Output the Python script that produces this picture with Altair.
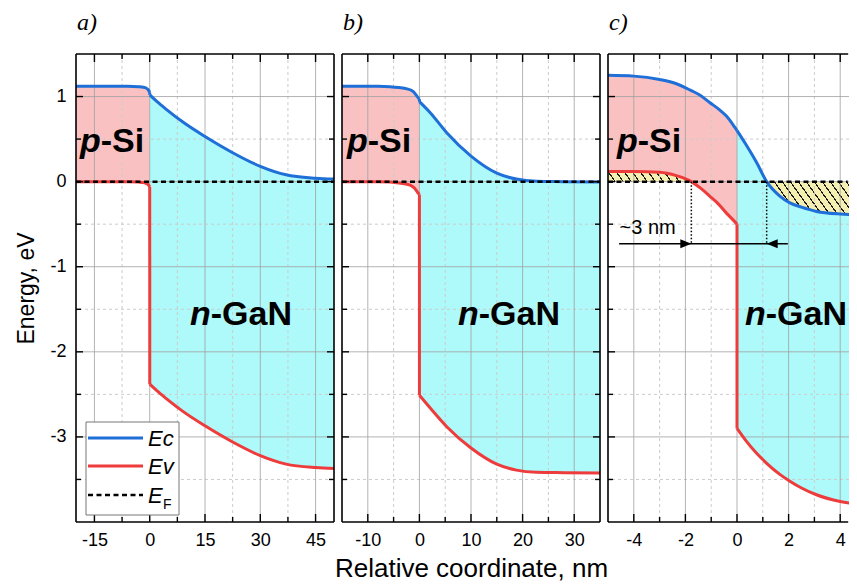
import math
import altair as alt
import pandas as pd

FONT = "Liberation Sans"
SERIF = "Liberation Serif"

# ---------------- data ----------------
y_domain = [-4.0, 1.5]
y_major = [-3, -2, -1, 0, 1]
y_minor = [-3.5, -2.5, -1.5, -0.5, 0.5]

# panel a
a_xdom = [-20, 50]
a_major = [-15, 0, 15, 30, 45]
a_minor = [-7.5, 7.5, 22.5, 37.5]
a_si_x = [-20, -10, -6, -3, -1.8, -1, -0.4, 0]
a_si_ec = [1.12, 1.12, 1.12, 1.115, 1.11, 1.10, 1.08, 1.05]
a_si_ev = [0.0, 0.0, 0.0, -0.005, -0.01, -0.02, -0.035, -0.06]
a_gan_x = [0, 2, 4.5, 9, 15, 22.5, 30, 37, 45, 50]
a_gan_ec = [1.02, 0.94, 0.85, 0.70, 0.53, 0.34, 0.18, 0.08, 0.04, 0.03]
a_gan_ev = [-2.38, -2.46, -2.55, -2.70, -2.87, -3.06, -3.22, -3.32, -3.36, -3.37]

# panel b
b_xdom = [-15, 35]
b_major = [-10, 0, 10, 20, 30]
b_minor = [-5, 5, 15, 25]
b_si_x = [-15, -8, -5.7, -4, -2.4, -1.5, -0.9, -0.3, 0]
b_si_ec = [1.12, 1.12, 1.115, 1.105, 1.09, 1.07, 1.04, 0.99, 0.97]
b_si_ev = [0.0, 0.0, -0.005, -0.015, -0.03, -0.05, -0.08, -0.13, -0.15]
b_gan_x = [0, 2.1, 5.3, 10, 15, 18.8, 22.7, 28, 35]
b_gan_ec = [0.94, 0.81, 0.575, 0.30, 0.10, 0.03, 0.005, 0.0, -0.005]
b_gan_ev = [-2.51, -2.66, -2.88, -3.13, -3.32, -3.39, -3.415, -3.42, -3.425]

# panel c
c_xdom = [-5, 4.341]
c_major = [-4, -2, 0, 2, 4]
c_minor = [-3, -1, 1, 3]
c_si_x = [-5, -4, -3, -2.35, -1.97, -1.77, -1.4, -1.06, -0.7, -0.41, -0.09, 0]
c_si_ec = [1.25, 1.24, 1.20, 1.15, 1.10, 1.07, 1.01, 0.93, 0.85, 0.77, 0.64, 0.60]
c_si_ev = [0.12, 0.12, 0.11, 0.07, 0.03, 0.0, -0.08, -0.17, -0.27, -0.37, -0.47, -0.50]
c_gan_x = [0, 0.36, 0.75, 1.15, 1.66, 2.05, 2.5, 3.08, 4, 5]
c_gan_ec = [0.60, 0.43, 0.23, 0.0, -0.17, -0.25, -0.30, -0.35, -0.38, -0.39]
c_gan_ev = [-2.90, -3.05, -3.19, -3.31, -3.44, -3.52, -3.60, -3.68, -3.76, -3.80]
c_cross_x = [-1.77, 1.15]
c_arrow_y = -0.73
c_arrow_span = [-4.57, 1.97]
c_note = "~3 nm"
c_note_pos = [-4.55, -0.54]

# ---------------- style ----------------
H = 468
W_AB = 258
W_C = 241
BLUE = "#1f6fd8"
RED = "#ee3b3b"
PINK = "#f9c1c1"
CYAN = "#aef9f9"
HATCH_BG = "#f6efb2"
GRID = "#a0a0a0"
GRID_MINOR = "#cccccc"


def hatch_fill(W, Hh, s=1.4, period=8.0, lw=1.2, bg=HATCH_BG, fg="#1a1a1a"):
    F = s * W + Hh
    k = F / (s * s * W * W + Hh * Hh)
    x2 = s * W * k
    y2 = 1 - Hh * k
    per = s * period / F
    lwt = lw * math.sqrt(1 + s * s) / F
    stops = []
    t = 0.0
    while t < 1.0:
        a = min(t + per - lwt, 1.0)
        b = min(t + per, 1.0)
        stops += [alt.GradientStop(color=bg, offset=t), alt.GradientStop(color=bg, offset=a),
                  alt.GradientStop(color=fg, offset=a), alt.GradientStop(color=fg, offset=b)]
        t += per
    return alt.LinearGradient(gradient="linear", stops=stops, x1=0, y1=1, x2=x2, y2=y2)


def one():
    return pd.DataFrame({"a": [0]})


def txt(text, x, y, size, weight="normal", style="normal", font=FONT, align="left", baseline="alphabetic",
        color="black", clip=False):
    return alt.Chart(one()).mark_text(text=text, font=font, fontSize=size, fontWeight=weight, fontStyle=style,
                                      align=align, baseline=baseline, color=color, clip=clip).encode(
        x=alt.value(x), y=alt.value(y))


def make_panel(xdom, width, si, gan, major_x, minor_x, show_y, x_title, letter, psi_x, ngan_x, extra=None,
               right_frame=True):
    si_x, si_ec, si_ev = si
    gan_x, gan_ec, gan_ev = gan
    eps = (xdom[1] - xdom[0]) * 1e-4
    rows = []
    for x, ec, ev in zip(si_x, si_ec, si_ev):
        rows.append(dict(x=x, ec=ec, ev=ev, side="Si", zero=0.0))
    for i, (x, ec, ev) in enumerate(zip(gan_x, gan_ec, gan_ev)):
        rows.append(dict(x=x + (eps if i == 0 else 0), ec=ec, ev=ev, side="GaN", zero=0.0))
    df = pd.DataFrame(rows)
    # line segments: Si side, GaN side and the junction step between them
    si_df = df[df.side == "Si"].assign(seg="Si")
    gan_df = df[df.side == "GaN"].assign(seg="GaN")
    junc = pd.concat([si_df.tail(1), gan_df.head(1)]).assign(seg="J")
    ldf = pd.concat([si_df, junc, gan_df], ignore_index=True)

    edge = width if right_frame else width - 1.3

    xs = alt.Scale(domain=xdom, nice=False, zero=False)
    ys = alt.Scale(domain=y_domain, nice=False, zero=False)
    xaxis = alt.Axis(values=major_x, labelExpr="'' + datum.value", ticks=False, tickSize=0, domain=False,
                     grid=False, labelPadding=9, labelFontSize=18, labelFont=FONT, labelColor="black",
                     labelFlush=False, titleFont=FONT, titleFontSize=26, titleFontWeight="normal",
                     titleColor="black", titlePadding=6)
    if show_y:
        yaxis = alt.Axis(values=y_major, labelExpr="'' + datum.value", ticks=False, tickSize=0, domain=False,
                         grid=False, labelPadding=10, labelFontSize=18, labelFont=FONT, labelColor="black",
                         labelFlush=False, titleFont=FONT, titleFontSize=23, titleFontWeight="normal",
                         titleColor="black", titlePadding=11)
        ytitle = "Energy, eV"
    else:
        yaxis = None
        ytitle = None

    def X(f):
        return alt.X(f, type="quantitative", scale=xs, axis=xaxis, title=x_title)

    def Y(f):
        return alt.Y(f, type="quantitative", scale=ys, axis=yaxis, title=ytitle)

    layers = []
    layers.append(alt.Chart(si_df).mark_area(color=PINK, interpolate="monotone", clip=True)
                  .encode(x=X("x"), y=Y("ev"), y2="ec:Q"))
    layers.append(alt.Chart(gan_df).mark_area(color=CYAN, interpolate="monotone", clip=True)
                  .encode(x=X("x"), y=Y("ec"), y2="ev:Q"))
    if extra is not None:
        layers += extra["under"](df, X, Y)

    # grid
    layers.append(alt.Chart(pd.DataFrame({"v": minor_x})).mark_rule(color=GRID_MINOR, strokeWidth=1, strokeDash=[3, 3])
                  .encode(x=X("v")))
    layers.append(alt.Chart(pd.DataFrame({"v": y_minor})).mark_rule(color=GRID_MINOR, strokeWidth=1, strokeDash=[3, 3],
                                                                      clip=True)
                  .encode(y=Y("v")))
    layers.append(alt.Chart(pd.DataFrame({"v": major_x})).mark_rule(color=GRID, strokeWidth=1, opacity=0.8)
                  .encode(x=X("v")))
    layers.append(alt.Chart(pd.DataFrame({"v": y_major})).mark_rule(color=GRID, strokeWidth=1, opacity=0.8, clip=True)
                  .encode(y=Y("v")))

    # band edges
    lbase = alt.Chart(ldf)
    layers.append(lbase.mark_line(color=BLUE, strokeWidth=3, interpolate="monotone", clip=True, strokeJoin="round")
                  .encode(x=X("x"), y=Y("ec"), detail="seg:N"))
    layers.append(lbase.mark_line(color=RED, strokeWidth=3, interpolate="monotone", clip=True, strokeJoin="round")
                  .encode(x=X("x"), y=Y("ev"), detail="seg:N"))

    if extra is not None:
        layers += extra["over"](df, X, Y)

    # Fermi level
    layers.append(alt.Chart(pd.DataFrame({"v": [0.0]})).mark_rule(color="black", strokeWidth=2.5, strokeDash=[5, 3.5])
                  .encode(y=Y("v"), x=alt.value(0), x2=alt.value(edge)))

    # ticks
    tk = dict(color="black", strokeWidth=1.4)
    mj = pd.DataFrame({"v": major_x})
    mn = pd.DataFrame({"v": minor_x})
    for d, L in ((mj, 8), (mn, 5)):
        layers.append(alt.Chart(d).mark_rule(**tk).encode(x=X("v"), y=alt.value(H), y2=alt.value(H - L)))
        layers.append(alt.Chart(d).mark_rule(**tk).encode(x=X("v"), y=alt.value(0), y2=alt.value(L)))
    ymj = pd.DataFrame({"v": y_major})
    ymn = pd.DataFrame({"v": y_minor})
    for d, L in ((ymj, 7), (ymn, 5)):
        layers.append(alt.Chart(d).mark_rule(**tk).encode(y=Y("v"), x=alt.value(0), x2=alt.value(L)))
        if right_frame:
            layers.append(alt.Chart(d).mark_rule(**tk).encode(y=Y("v"), x=alt.value(width), x2=alt.value(width - L)))

    # frame
    fr = dict(color="black", strokeWidth=1.6)
    fedge = width if right_frame else width - 0.8
    layers.append(alt.Chart(one()).mark_rule(**fr).encode(x=alt.value(0), y=alt.value(0), y2=alt.value(H)))
    layers.append(alt.Chart(one()).mark_rule(**fr).encode(x=alt.value(0), x2=alt.value(fedge), y=alt.value(0)))
    layers.append(alt.Chart(one()).mark_rule(**fr).encode(x=alt.value(0), x2=alt.value(fedge), y=alt.value(H)))
    if right_frame:
        layers.append(alt.Chart(one()).mark_rule(**fr).encode(x=alt.value(width), y=alt.value(0), y2=alt.value(H)))

    # region labels
    S = 34
    layers.append(txt("p", psi_x, 98, S, weight="bold", style="italic"))
    layers.append(txt("-Si", psi_x + 0.611 * S, 98, S, weight="bold"))
    layers.append(txt("n", ngan_x, 271, S, weight="bold", style="italic", clip=True))
    layers.append(txt("-GaN", ngan_x + 0.611 * S, 271, S, weight="bold", clip=True))

    # panel letter
    layers.append(txt(letter, 1, -24, 24, style="italic", font=SERIF))

    if extra is not None and "legend" in extra:
        layers += extra["legend"]()

    return alt.layer(*layers).properties(width=width, height=H)


def legend_layers():
    L = []
    L.append(alt.Chart(one()).mark_rect(fill="white", stroke="#777777", strokeWidth=1)
             .encode(x=alt.value(10), x2=alt.value(103), y=alt.value(368), y2=alt.value(461)))
    L.append(alt.Chart(one()).mark_rule(color=BLUE, strokeWidth=3)
             .encode(x=alt.value(12), x2=alt.value(67), y=alt.value(384)))
    L.append(alt.Chart(one()).mark_rule(color=RED, strokeWidth=3)
             .encode(x=alt.value(12), x2=alt.value(67), y=alt.value(412)))
    L.append(alt.Chart(one()).mark_rule(color="black", strokeWidth=2.5, strokeDash=[5, 3.5])
             .encode(x=alt.value(12), x2=alt.value(67), y=alt.value(441)))
    L.append(txt("Ec", 72, 392, 22, style="italic"))
    L.append(txt("Ev", 72, 420, 22, style="italic"))
    L.append(txt("E", 72, 449, 22, style="italic"))
    L.append(txt("F", 87, 455, 14))
    # layout anchor (white, invisible) fixing the chart's top-left corner
    L.append(alt.Chart(one()).mark_rule(color="white", strokeWidth=1)
             .encode(x=alt.value(-67.5), y=alt.value(-45.5), y2=alt.value(-44)))
    return L


def c_under(df, X, Y):
    pxx = W_C / (c_xdom[1] - c_xdom[0])
    pxy = H / (y_domain[1] - y_domain[0])
    left = df[(df.side == "Si") & (df.ev >= 0)]
    right = df[(df.side == "GaN") & (df.ec <= 0)]
    gl = hatch_fill((left.x.max() - left.x.min()) * pxx, left.ev.max() * pxy)
    gr = hatch_fill((right.x.max() - right.x.min()) * pxx, -right.ec.min() * pxy)
    return [
        alt.Chart(left).mark_area(color=gl, interpolate="monotone", clip=True).encode(x=X("x"), y=Y("ev"), y2="zero:Q"),
        alt.Chart(right).mark_area(color=gr, interpolate="monotone", clip=True).encode(x=X("x"), y=Y("ec"), y2="zero:Q"),
    ]


def c_over(df, X, Y):
    cross = pd.DataFrame({"x": c_cross_x, "y0": [0.0, 0.0], "y1": [c_arrow_y, c_arrow_y]})
    arrow = pd.DataFrame({"x1": [c_arrow_span[0]], "x2": [c_arrow_span[1]], "y": [c_arrow_y]})
    head_r = pd.DataFrame({"x": [c_cross_x[0]], "y": [c_arrow_y]})
    head_l = pd.DataFrame({"x": [c_cross_x[1]], "y": [c_arrow_y]})
    note = pd.DataFrame({"x": [c_note_pos[0]], "y": [c_note_pos[1]], "t": [c_note]})
    return [
        alt.Chart(cross).mark_rule(color="black", strokeWidth=1.5, strokeDash=[1.5, 2])
        .encode(x=X("x"), y=Y("y0"), y2="y1:Q"),
        alt.Chart(arrow).mark_rule(color="black", strokeWidth=1.5).encode(x=X("x1"), x2="x2:Q", y=Y("y")),
        alt.Chart(head_r).mark_point(shape="M 0 0 L -1 -0.4 L -1 0.4 Z", size=484, filled=True, color="black", opacity=1)
        .encode(x=X("x"), y=Y("y")),
        alt.Chart(head_l).mark_point(shape="M 0 0 L 1 -0.4 L 1 0.4 Z", size=484, filled=True, color="black", opacity=1)
        .encode(x=X("x"), y=Y("y")),
        alt.Chart(note).mark_text(font=FONT, fontSize=20, align="left", baseline="middle", color="black")
        .encode(x=X("x"), y=Y("y"), text="t:N"),
    ]


pa = make_panel(a_xdom, W_AB, (a_si_x, a_si_ec, a_si_ev), (a_gan_x, a_gan_ec, a_gan_ev), a_major, a_minor,
                True, None, "a)", 4, 114, extra={"under": lambda d, X, Y: [], "over": lambda d, X, Y: [],
                                                 "legend": legend_layers})
pb = make_panel(b_xdom, W_AB, (b_si_x, b_si_ec, b_si_ev), (b_gan_x, b_gan_ec, b_gan_ev), b_major, b_minor,
                False, "Relative coordinate, nm", "b)", 5, 116)
pc = make_panel(c_xdom, W_C, (c_si_x, c_si_ec, c_si_ev), (c_gan_x, c_gan_ec, c_gan_ev), c_major, c_minor,
                False, None, "c)", 9, 137, extra={"under": c_under, "over": c_over}, right_frame=False)

chart = alt.hconcat(pa, pb, pc, spacing=8, bounds="flush").properties(
    padding=0, background="white").configure_view(stroke=None)

chart.save("out.html", embed_options={"renderer": "svg", "actions": False})
